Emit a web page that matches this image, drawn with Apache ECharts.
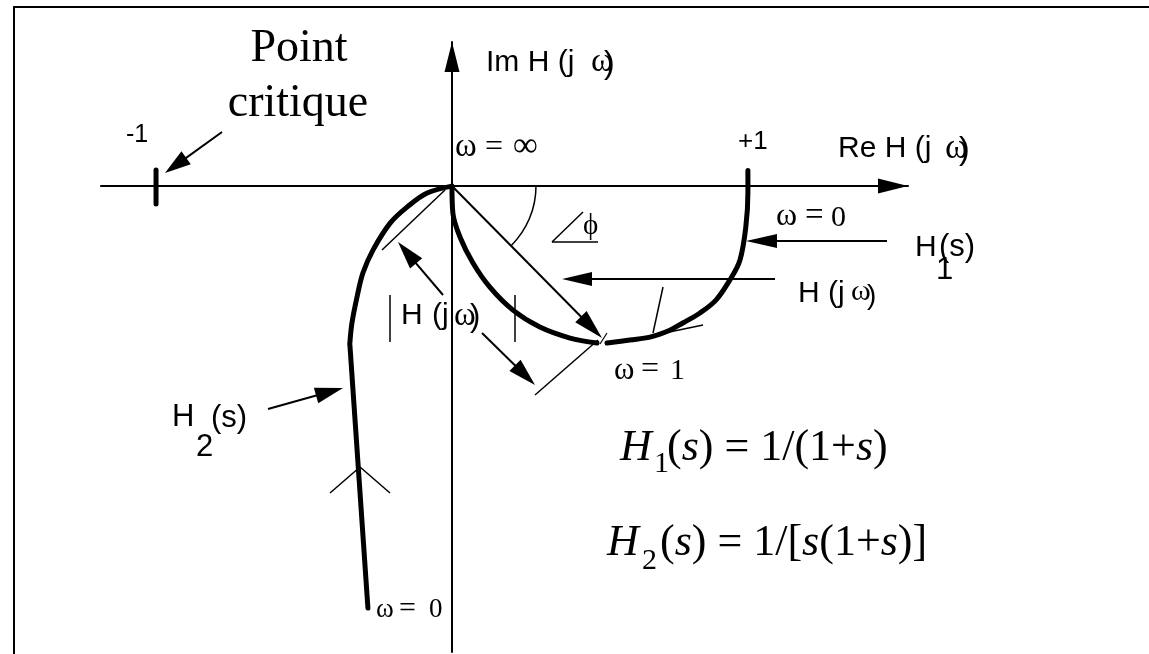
<!DOCTYPE html>
<html>
<head>
<meta charset="utf-8">
<script src="https://cdn.jsdelivr.net/npm/echarts@6/dist/echarts.min.js"></script>
<style>
  html, body { margin: 0; padding: 0; background: #fff; }
  #chart { width: 1149px; height: 654px; }
</style>
</head>
<body>
<div id="chart"></div>
<script>
// Extent of the drawn complex plane (Re, Im)
const reRange = [-1.186, 1.541];
const imRange = [-1.484, 0.459];

// H1(jω) = 1/(1+jω): branch from ω = ∞ (origin) to ω = 1
const h1HighFreq = [
  [0, 0], [0.003, -0.086], [0.027, -0.162], [0.071, -0.245], [0.128, -0.322],
  [0.206, -0.395], [0.297, -0.449], [0.399, -0.484], [0.490, -0.500]
];
// H1(jω): branch from ω = 0 (+1) to ω = 1
const h1LowFreq = [
  [1.0, 0.05], [1.0, -0.02], [0.993, -0.13], [0.973, -0.236], [0.939, -0.299],
  [0.892, -0.363], [0.838, -0.404], [0.780, -0.436], [0.736, -0.459],
  [0.669, -0.481], [0.601, -0.490], [0.524, -0.500]
];
// H2(jω) = 1/[jω(1+jω)]: bend near the origin
const h2Bend = [
  [0, 0], [-0.084, -0.022], [-0.152, -0.067], [-0.209, -0.118], [-0.267, -0.204],
  [-0.301, -0.277], [-0.321, -0.354], [-0.338, -0.436], [-0.345, -0.500]
];
// H2(jω): low-frequency branch down to ω = 0
const h2LowFreq = [[-0.345, -0.505], [-0.284, -1.344]];
// Critical point -1
const criticalTick = [[-1, 0.051], [-1, -0.057]];

const SANS = '"Liberation Sans", Arial, sans-serif';
const SERIF = '"Liberation Serif", "Times New Roman", serif';

function txt(s, x, base, size, fam, opt) {
  opt = opt || {};
  const style = {
    text: s, x: x, y: base - 0.31 * size,
    font: (opt.italic ? 'italic ' : '') + size + 'px ' + fam,
    fill: '#000', textAlign: opt.align || 'left', textVerticalAlign: 'middle'
  };
  if (opt.rich) style.rich = opt.rich;
  return { type: 'text', z: 20, silent: true, style: style };
}
function seg(x1, y1, x2, y2, w) {
  return { type: 'line', z: 20, silent: true, shape: { x1: x1, y1: y1, x2: x2, y2: y2 },
           style: { stroke: '#000', lineWidth: w || 1.5 } };
}
function arrow(x1, y1, x2, y2, len, half, w) {
  const dx = x2 - x1, dy = y2 - y1, d = Math.hypot(dx, dy), ux = dx / d, uy = dy / d;
  const bx = x2 - ux * len, by = y2 - uy * len;
  return [
    seg(x1, y1, bx + ux * 3, by + uy * 3, w || 2),
    { type: 'polygon', z: 20, silent: true,
      shape: { points: [[x2, y2], [bx - uy * half, by + ux * half], [bx + uy * half, by - ux * half]] },
      style: { fill: '#000' } }
  ];
}
// "ω = value" label built from three glyph runs
function omegaEq(x, base, wSize, eqSize, vSize, gapEq, gapVal, value) {
  return [
    txt('ω', x, base, wSize, SERIF),
    txt('=', x + gapEq, base, eqSize, SERIF),
    txt(value, x + gapVal, base, vSize, SERIF)
  ];
}

const italicRich = { i: { fontStyle: 'italic', fontSize: 44, fontFamily: SERIF } };

const graphics = [].concat(
  // frame
  seg(13, 7, 1149, 7, 2), seg(14, 7, 14, 654, 2),
  // critical point caption and pointer
  txt('Point', 299, 63, 46, SERIF, { align: 'center' }),
  txt('critique', 298, 118, 46, SERIF, { align: 'center' }),
  arrow(222, 132, 165, 173, 26, 8),
  txt('-1', 126, 143, 25, SANS),
  txt('+1', 738, 150, 26, SANS),
  // axis titles
  txt('Im H (j', 486, 72, 30, SANS), txt('ω', 591, 73, 34, SERIF), txt(')', 604, 74, 32, SANS),
  txt('Re H (j', 838, 158, 30, SANS), txt('ω', 945, 160, 35, SERIF), txt(')', 959, 160, 32, SANS),
  // ω = ∞ at origin
  omegaEq(455, 158, 33, 32, 35, 30, 58, '∞'),
  // phase angle
  { type: 'arc', z: 20, silent: true, shape: { cx: 452, cy: 186, r: 84, startAngle: 0, endAngle: 0.79 },
    style: { stroke: '#000', lineWidth: 1.5, fill: null } },
  seg(552, 242, 583, 212), seg(552, 242, 598, 242),
  txt('ϕ', 583, 235, 29, SERIF),
  // vector H(jω)
  arrow(452, 186, 602, 338, 30, 8),
  // ω = 0 pointer on H1
  omegaEq(776, 227, 32, 33, 30, 29, 55, '0'),
  arrow(887, 241, 746, 241, 31, 7),
  txt('H', 915, 257, 30, SANS), txt('1', 936, 280, 31, SANS), txt('(s)', 939, 257, 31, SANS),
  // H(jω) pointer
  arrow(775, 279, 562, 279, 30, 7),
  txt('H (j', 798, 303, 30, SANS), txt('ω', 851, 301, 30, SERIF), txt(')', 867, 305, 28, SANS),
  // tangent marks near ω = 1
  seg(663, 287, 653, 333), seg(655, 335, 703, 325),
  seg(600, 344, 607, 333, 1.2),
  omegaEq(614, 380, 31, 32, 30, 27, 56, '1'),
  // |H(jω)| dimension
  seg(382, 250, 445, 190), seg(535, 395, 598, 340),
  seg(390, 295, 390, 342), seg(515, 295, 515, 342),
  arrow(443, 295, 398, 242, 28, 8), arrow(482, 333, 535, 385, 28, 8),
  txt('H', 401, 325, 30, SANS), txt('(j', 432, 325, 30, SANS), txt('ω', 454, 327, 33, SERIF), txt(')', 470, 327, 31, SANS),
  // H2 caption, pointer and direction mark
  txt('H', 172, 427, 31, SANS), txt('(s)', 211, 428, 31, SANS), txt('2', 196, 457, 31, SANS),
  arrow(268, 409, 343, 388, 28, 8),
  seg(330, 493, 360, 467), seg(360, 467, 390, 493),
  omegaEq(376, 618, 27, 30, 27, 23, 53, '0'),
  // transfer functions
  txt('H', 620, 462, 44, SERIF, { italic: true }), txt('1', 654, 473, 30, SERIF),
  txt('({i|s}) = 1/(1+{i|s})', 667, 462, 44, SERIF, { rich: italicRich }),
  txt('H', 607, 557, 44, SERIF, { italic: true }), txt('2', 642, 570, 30, SERIF),
  txt('({i|s}) = 1/[{i|s}(1+{i|s})]', 660, 557, 44, SERIF, { rich: italicRich })
);

function curve(name, data, smooth) {
  return {
    name: name, type: 'line', data: data, smooth: smooth, symbol: 'none', silent: true, z: 3,
    lineStyle: { color: '#000', width: 5, cap: 'round', join: 'round' }
  };
}

const axisCommon = {
  type: 'value',
  axisTick: { show: false }, axisLabel: { show: false }, splitLine: { show: false },
  axisLine: {
    onZero: true, lineStyle: { color: '#000', width: 2 },
    symbol: ['none', 'triangle'], symbolSize: [15, 30], symbolOffset: [0, -15]
  }
};

const chart = echarts.init(document.getElementById('chart'), null, { renderer: 'canvas' });
chart.setOption({
  animation: false,
  backgroundColor: '#fff',
  grid: { left: 101, right: 241, top: 42, bottom: 2, outerBoundsMode: 'none' },
  xAxis: Object.assign({}, axisCommon, { min: reRange[0], max: reRange[1] }),
  yAxis: Object.assign({}, axisCommon, { min: imRange[0], max: imRange[1] }),
  series: [
    curve('H1 ω→∞', h1HighFreq, 0.35),
    curve('H1 ω→0', h1LowFreq, 0.35),
    curve('H2 bend', h2Bend, 0.35),
    curve('H2 ω→0', h2LowFreq, false),
    curve('-1', criticalTick, false)
  ],
  graphic: { elements: graphics }
});
</script>
</body>
</html>
